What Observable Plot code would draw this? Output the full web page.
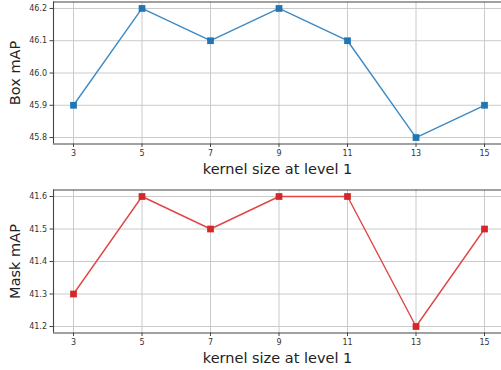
<!DOCTYPE html>
<html><head><meta charset="utf-8">
<script src="https://cdn.jsdelivr.net/npm/d3@7"></script>
<script src="https://cdn.jsdelivr.net/npm/@observablehq/plot@0.6"></script>
<style>
body{margin:0;background:#fff;}
svg{display:block;}
</style></head><body>
<div id="chart"></div>
<script>
const kernelSizes = [3, 5, 7, 9, 11, 13, 15];
const boxMAP = [45.9, 46.2, 46.1, 46.2, 46.1, 45.8, 45.9];
const maskMAP = [41.3, 41.6, 41.5, 41.6, 41.6, 41.2, 41.5];
const boxTicks = [45.8, 45.9, 46.0, 46.1, 46.2];
const maskTicks = [41.2, 41.3, 41.4, 41.5, 41.6];
const xLabel = "kernel size at level 1";

const xDomain = [2.416, 15.496];

function panel(values, yTicks, yDomain, yLabel, color, lineColor, mt, mb) {
  const data = kernelSizes.map((k, i) => ({k, v: values[i]}));
  return Plot.plot({
    width: 501, height: 185,
    marginLeft: 53, marginRight: 0, marginTop: mt, marginBottom: mb,
    style: {fontFamily: "DejaVu Sans", background: "#fff"},
    x: {domain: xDomain},
    y: {domain: yDomain},
    marks: [
      Plot.ruleX(kernelSizes, {stroke: "#c4c4c4", strokeWidth: 0.9}),
      Plot.ruleY(yTicks, {stroke: "#c4c4c4", strokeWidth: 0.9}),
      Plot.ruleY([yDomain[0]], {stroke: "#444", strokeWidth: 1.1}),
      Plot.ruleY([yDomain[1]], {stroke: "#444", strokeWidth: 1.1}),
      Plot.ruleX([xDomain[0]], {stroke: "#444", strokeWidth: 1.1}),
      Plot.axisX({ticks: kernelSizes, tickFormat: d => String(d), tickSize: 3.5, tickPadding: 3, fontSize: 8, color: "#333", label: null, stroke: "#444"}),
      Plot.axisY({ticks: yTicks, tickFormat: d => d.toFixed(1), tickSize: 3.5, tickPadding: 3, fontSize: 8, color: "#333", label: null, stroke: "#444"}),
      Plot.line(data, {x: "k", y: "v", stroke: lineColor, strokeWidth: 1.4}),
      Plot.dot(data, {x: "k", y: "v", symbol: "square", r: 3.8, fill: color, stroke: null}),
      Plot.text([yLabel], {frameAnchor: "left", textAnchor: "middle", lineAnchor: "middle", rotate: -90, dx: -38, fontSize: 14.5, fill: "#222"}),
      Plot.text([xLabel], {frameAnchor: "bottom", textAnchor: "middle", lineAnchor: "middle", dy: 25.5, fontSize: 14.5, fill: "#222"})
    ]
  });
}

const el = document.getElementById("chart");
el.append(panel(boxMAP, boxTicks, [45.78, 46.22], "Box mAP", "#1f77b4", "#3d8ac3", 1.5, 41.5));
el.append(panel(maskMAP, maskTicks, [41.18, 41.62], "Mask mAP", "#d62728", "#e04646", 4.5, 37.5));
</script>
</body></html>
